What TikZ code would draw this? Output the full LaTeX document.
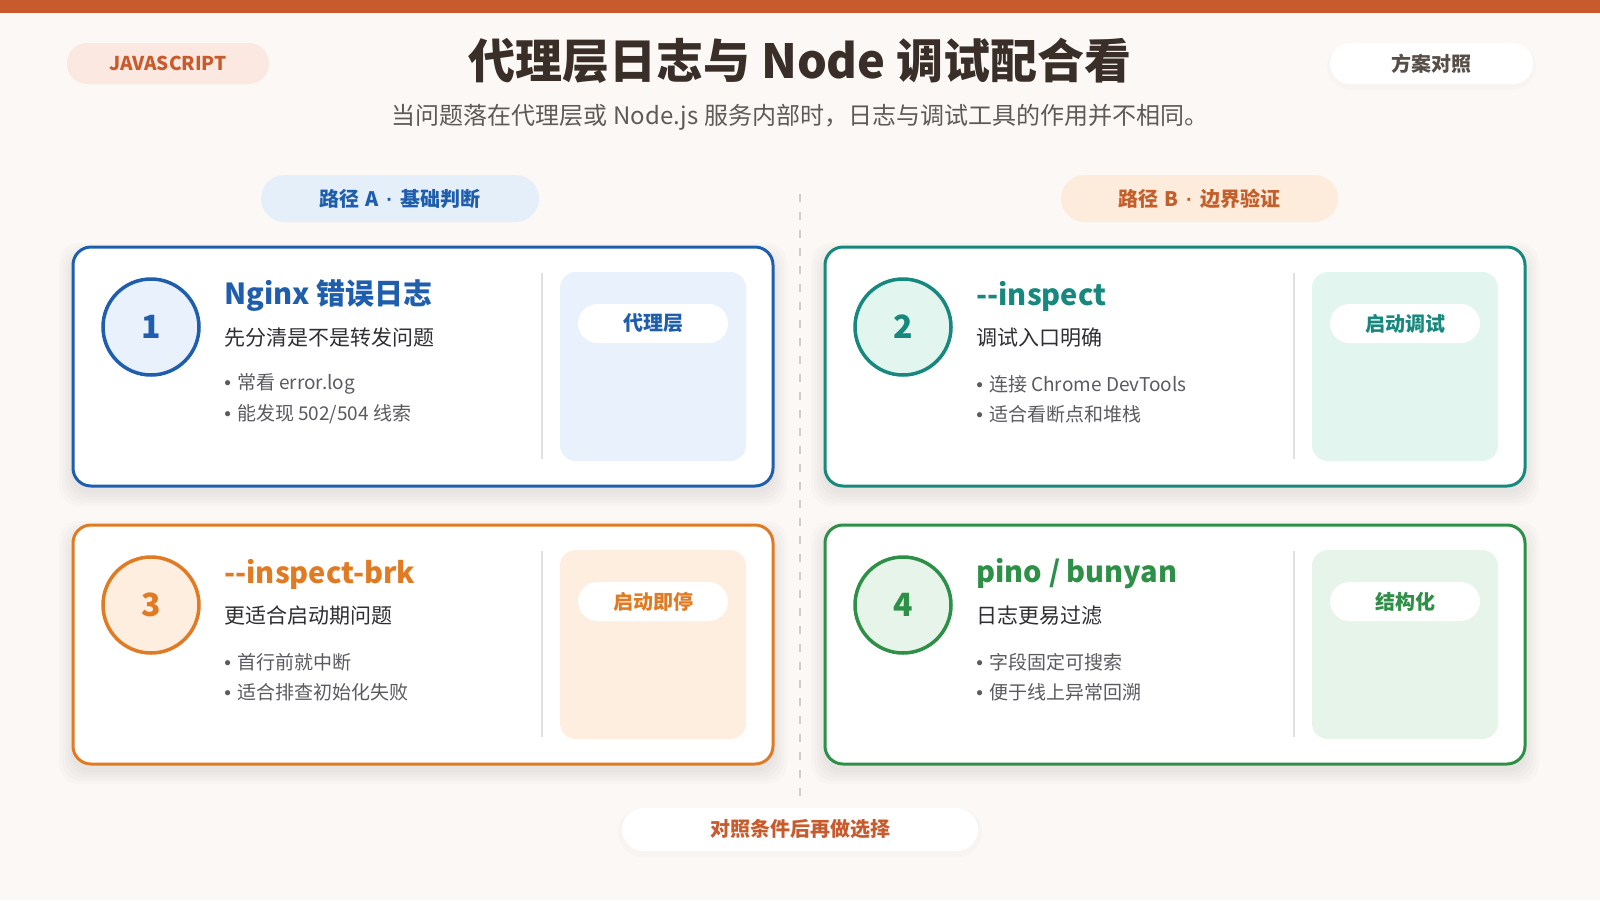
\documentclass[tikz,border=0pt]{standalone}
\usepackage{fontspec}
\setmainfont{Noto Sans CJK SC}
\newfontfamily\dotfont{Liberation Sans}
\usepackage{tikz}
\usetikzlibrary{positioning}
\definecolor{bg}{HTML}{FBF8F5}
\definecolor{rust}{HTML}{C85B2D}
\definecolor{peach}{HTML}{FBE8E1}
\definecolor{ink}{HTML}{3A2F28}
\definecolor{subgray}{HTML}{5E5A57}
\definecolor{body}{HTML}{2E2E33}
\definecolor{muted}{HTML}{5A5A60}
\definecolor{rule}{HTML}{E1E0DE}
\definecolor{divgray}{HTML}{CFCDCB}
\definecolor{cblue}{HTML}{1F5EAD}
\definecolor{cbluebg}{HTML}{E8F1FC}
\definecolor{cteal}{HTML}{17887D}
\definecolor{ctealbg}{HTML}{E2F5EF}
\definecolor{corange}{HTML}{E07B24}
\definecolor{corangebg}{HTML}{FEEEDF}
\definecolor{cgreen}{HTML}{2E8F47}
\definecolor{cgreenbg}{HTML}{E6F4E9}
\definecolor{pathA}{HTML}{E5EFFA}
\definecolor{pathB}{HTML}{FDEBDC}
\definecolor{pathBtext}{HTML}{C25F2A}

\begin{document}
\begin{tikzpicture}[x=0.5pt, y=-0.5pt,
  haze/.style={black, opacity=0.014},
  card/.style={draw, line width=1.5pt, fill=white, rounded corners=9pt, minimum width=350pt, minimum height=119.5pt, inner sep=0pt},
  pill/.style={rounded corners=10pt, inner sep=0pt, font=\bfseries\fontsize{10}{12}\selectfont},
  panel/.style={rounded corners=8pt, minimum width=93pt, minimum height=94.5pt, inner sep=0pt}]
  \path[use as bounding box] (0,0) rectangle (1600,900);
  \fill[bg] (0,0) rectangle (1600,900);
  \fill[rust] (0,0) rectangle (1600,13);

  % header
  \node[pill, fill=peach, text=rust, minimum width=101pt, minimum height=20.5pt, font=\bfseries\fontsize{9.5}{12}\selectfont] (lang) at (168,63.5) {JAVASCRIPT};
  \node[font=\bfseries\fontsize{23.5}{26}\selectfont, text=ink] (title) at (800,61) {代理层日志与 Node 调试配合看};
  \node[font=\fontsize{12}{14}\selectfont, text=subgray] (subtitle) at (800,117) {当问题落在代理层或 Node.js 服务内部时，日志与调试工具的作用并不相同。};
  \fill[haze, rounded corners=12pt] (1327,43) rectangle (1536,90);
  \node[pill, fill=white, text=ink!85, minimum width=101.5pt, minimum height=20.5pt] (mode) at (1431.5,63.5) {方案对照};

  % columns
  \node[pill, fill=pathA, text=cblue, minimum width=139pt, minimum height=23.5pt, rounded corners=11.75pt] (pathA) at (400,198.5) {路径\hspace{3pt}A\hspace{4pt}{\dotfont ·}\hspace{4pt}基础判断};
  \node[pill, fill=pathB, text=pathBtext, minimum width=138.5pt, minimum height=23.5pt, rounded corners=11.75pt] (pathB) at (1199.5,198.5) {路径\hspace{3pt}B\hspace{4pt}{\dotfont ·}\hspace{4pt}边界验证};
  \coordinate (divtop) at (800,194);
  \coordinate (divbot) at (800,806);
  \draw[divgray, line width=1pt, dash pattern=on 4pt off 5pt] (divtop) -- (divbot);

  \foreach \x/\y/\c/\l/\n/\ti/\su/\ba/\bb/\tg in {
    73/247/cblue/cbluebg/1/{Nginx 错误日志}/{先分清是不是转发问题}/{常看 error.log}/{能发现 502/504 线索}/代理层,
    825/247/cteal/ctealbg/2/{-{}-inspect}/{调试入口明确}/{连接 Chrome DevTools}/{适合看断点和堆栈}/启动调试,
    73/525/corange/corangebg/3/{-{}-inspect-brk}/{更适合启动期问题}/{首行前就中断}/{适合排查初始化失败}/启动即停,
    825/525/cgreen/cgreenbg/4/{pino / bunyan}/{日志更易过滤}/{字段固定可搜索}/{便于线上异常回溯}/结构化}{
    \begin{scope}[shift={(\x,\y)}]
      \foreach \s in {2,5,8,11,14}
        \fill[haze, rounded corners=10pt] (-\s,10-\s) rectangle (700+\s,245+\s);
      \node[card, draw=\c] (card\n) at (350,119.5) {};
      \node[circle, draw=\c, fill=\l, line width=1.75pt, minimum size=48pt, inner sep=0pt, text=\c, font=\bfseries\fontsize{16}{16}\selectfont] (num\n) at (78,80) {\n};
      \node[anchor=west, inner sep=0pt, text=\c, font=\bfseries\fontsize{14.5}{17}\selectfont] (head\n) at (151,49) {\ti};
      \node[anchor=west, inner sep=0pt, text=body, font=\fontsize{10.5}{13}\selectfont] (lead\n) at (151,91) {\su};
      \node[anchor=west, inner sep=0pt, text=muted, font=\fontsize{9.5}{12}\selectfont] (pta\n) at (151,137) {{\dotfont •}\hspace{3pt}\ba};
      \node[anchor=west, inner sep=0pt, text=muted, font=\fontsize{9.5}{12}\selectfont] (ptb\n) at (151,167) {{\dotfont •}\hspace{3pt}\bb};
      \draw[rule, line width=0.75pt] (469,26) -- (469,212);
      \node[panel, fill=\l] (panel\n) at (580,119.5) {};
      \node[pill, fill=white, text=\c, minimum width=75pt, minimum height=19.5pt, rounded corners=9.75pt] (tag\n) at (580,76.5) {\tg};
    \end{scope}
  }

  % footer
  \fill[haze, rounded corners=12pt] (618,808) rectangle (982,857);
  \node[pill, fill=white, text=rust, minimum width=178pt, minimum height=21.5pt, rounded corners=10.75pt] (verdict) at (800,829.5) {对照条件后再做选择};
\end{tikzpicture}
\end{document}
